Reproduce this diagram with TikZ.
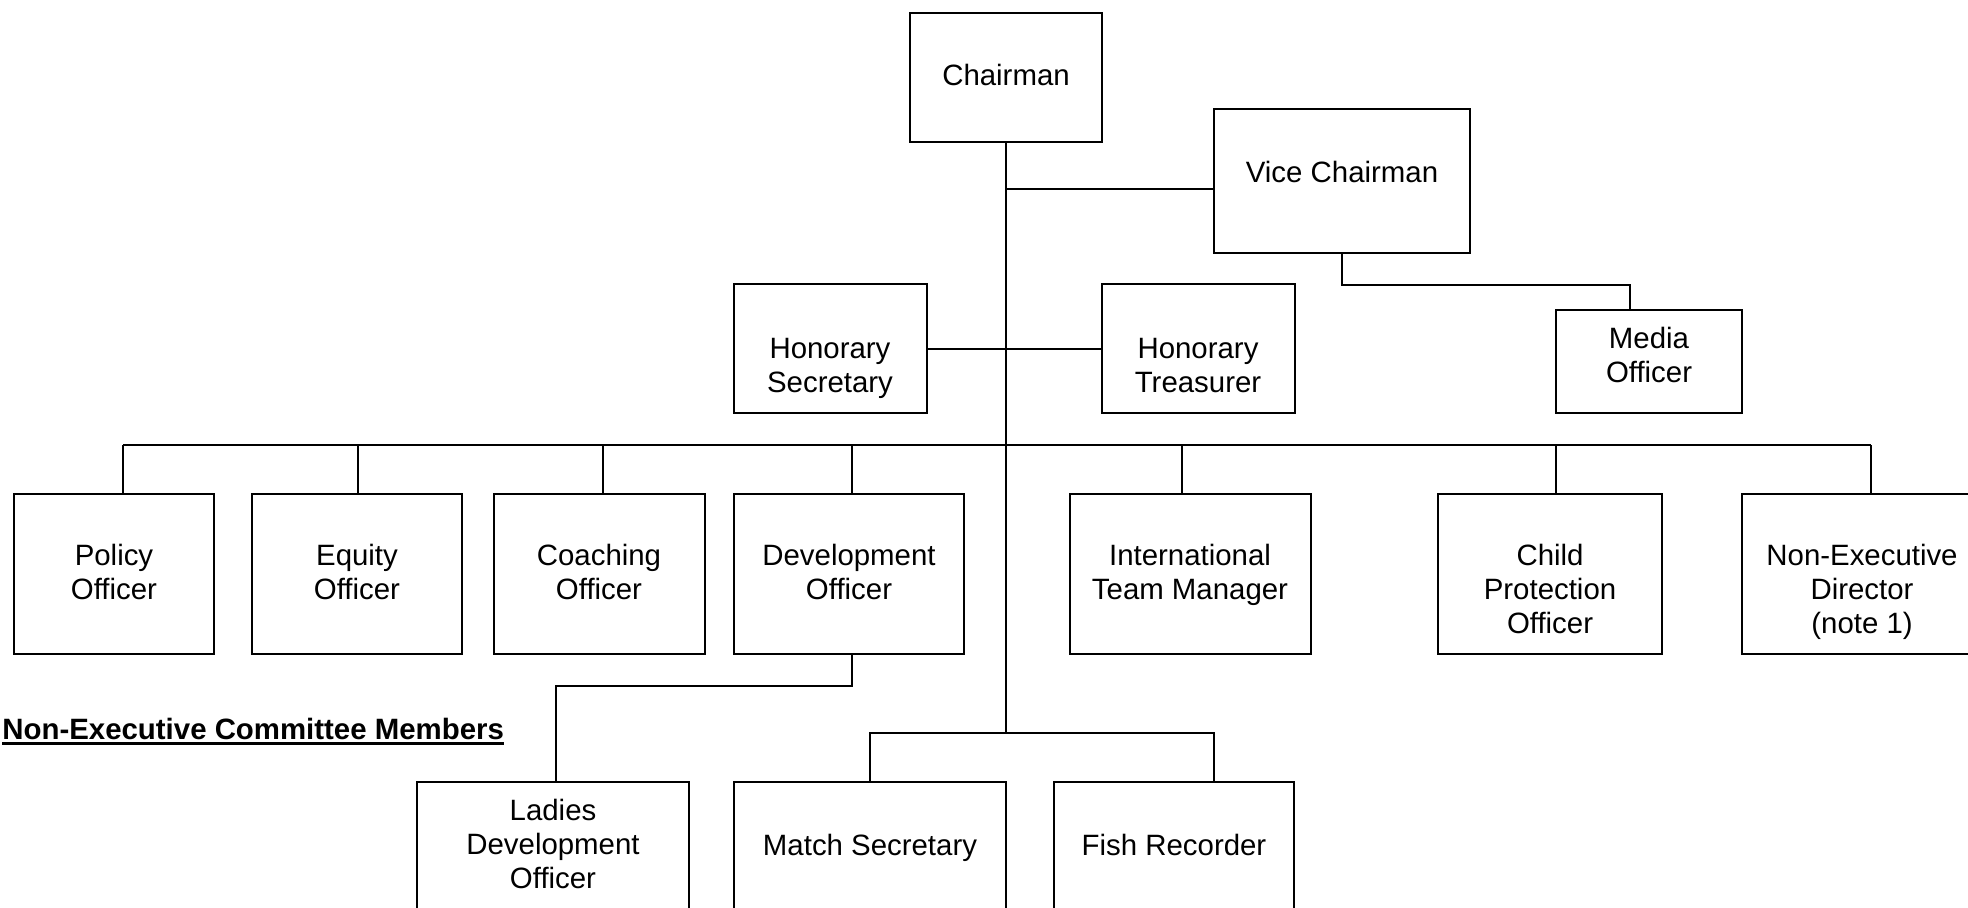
\documentclass[tikz,border=0pt]{standalone}
\usepackage{fontspec}
\setmainfont{Liberation Sans}
\usetikzlibrary{fit}
\tikzset{
  obox/.style={draw, line width=0.75pt, inner sep=0pt, rectangle},
  otext/.style={align=center, inner sep=0pt, font=\fontsize{14.7}{17}\selectfont},
  link/.style={line width=0.7pt},
}
\newcommand\mkbox[5]{%
  \coordinate (#1-a) at (#2,#3);
  \coordinate (#1-b) at (#4,#5);
  \node[obox, fit=(#1-a)(#1-b)] (#1) {};
}
\begin{document}
\begin{tikzpicture}[x=0.5pt,y=-0.5pt]
\clip (0,0) rectangle (1968,907);
\useasboundingbox (0,0) rectangle (1968,907);
\fill[white] (0,0) rectangle (1968,907);

% boxes
\mkbox{chair}{910}{13}{1102}{142}
\mkbox{vice}{1214}{109}{1470}{253}
\mkbox{hsec}{734}{284}{927}{413}
\mkbox{htreas}{1102}{284}{1295}{413}
\mkbox{media}{1556}{310}{1742}{413}
\mkbox{policy}{14}{494}{214}{654}
\mkbox{equity}{252}{494}{462}{654}
\mkbox{coach}{494}{494}{705}{654}
\mkbox{dev}{734}{494}{964}{654}
\mkbox{intl}{1070}{494}{1311}{654}
\mkbox{child}{1438}{494}{1662}{654}
\mkbox{nonexec}{1742}{494}{1983}{654}
\mkbox{ladies}{417}{782}{689}{930}
\mkbox{match}{734}{782}{1006}{930}
\mkbox{fish}{1054}{782}{1294}{930}

% texts
\node[otext] (chair-t) at (1006,79) {\strut Chairman};
\node[otext] (vice-t) at (1342,176) {\strut Vice Chairman};
\node[otext] (hsec-t) at (830,369) {\strut Honorary\\\strut Secretary};
\node[otext] (htreas-t) at (1198,369) {\strut Honorary\\\strut Treasurer};
\node[otext] (media-t) at (1649,359) {\strut Media\\\strut Officer};
\node[otext] (policy-t) at (114,576) {\strut Policy\\\strut Officer};
\node[otext] (equity-t) at (357,576) {\strut Equity\\\strut Officer};
\node[otext] (coach-t) at (599,576) {\strut Coaching\\\strut Officer};
\node[otext] (dev-t) at (849,576) {\strut Development\\\strut Officer};
\node[otext] (intl-t) at (1190,576) {\strut International\\\strut Team Manager};
\node[otext] (child-t) at (1550,593) {\strut Child\\\strut Protection\\\strut Officer};
\node[otext] (nonexec-t) at (1862,593) {\strut Non-Executive\\\strut Director\\\strut (note 1)};
\node[otext] (ladies-t) at (553,848) {\strut Ladies\\\strut Development\\\strut Officer};
\node[otext] (match-t) at (870,849) {\strut Match Secretary};
\node[otext] (fish-t) at (1174,849) {\strut Fish Recorder};

% heading
\node[anchor=base west, inner sep=0pt, font=\fontsize{14.7}{17}\selectfont\bfseries] (head) at (2,739) {Non-Executive Committee Members};
\draw[line width=1.5pt] ([yshift=-2.25pt]head.base west) -- ([yshift=-2.25pt]head.base east);

% connectors
\coordinate (bj) at (1006,733);
\draw[link] (chair.south) -- (bj);
\coordinate (vj) at (1006,189);
\draw[link] (vj) -- (vj -| vice.west);
\coordinate (mstem) at (1630,285);
\draw[link] (vice.south) |- (mstem) -- (mstem |- media.north);
\coordinate (hj) at (1006,349);
\draw[link] (hj -| hsec.east) -- (hj -| htreas.west);
\coordinate (busL) at (123,445);
\coordinate (busR) at (1871,445);
\draw[link] (busL) -- (busR);
\foreach \n/\x in {policy/123, equity/358, coach/603, dev/852, intl/1182, child/1556, nonexec/1871}{
  \coordinate (s\n) at (\x,445);
  \draw[link] (s\n) -- (s\n |- \n.north);
}
\coordinate (ds) at (852,686);
\coordinate (ls) at (556,686);
\draw[link] (ds |- dev.south) -- (ds) -- (ls) -- (ls |- ladies.north);
\coordinate (fs) at (1214,733);
\draw[link] (match.north) |- (fs) -- (fs |- fish.north);
\end{tikzpicture}
\end{document}
